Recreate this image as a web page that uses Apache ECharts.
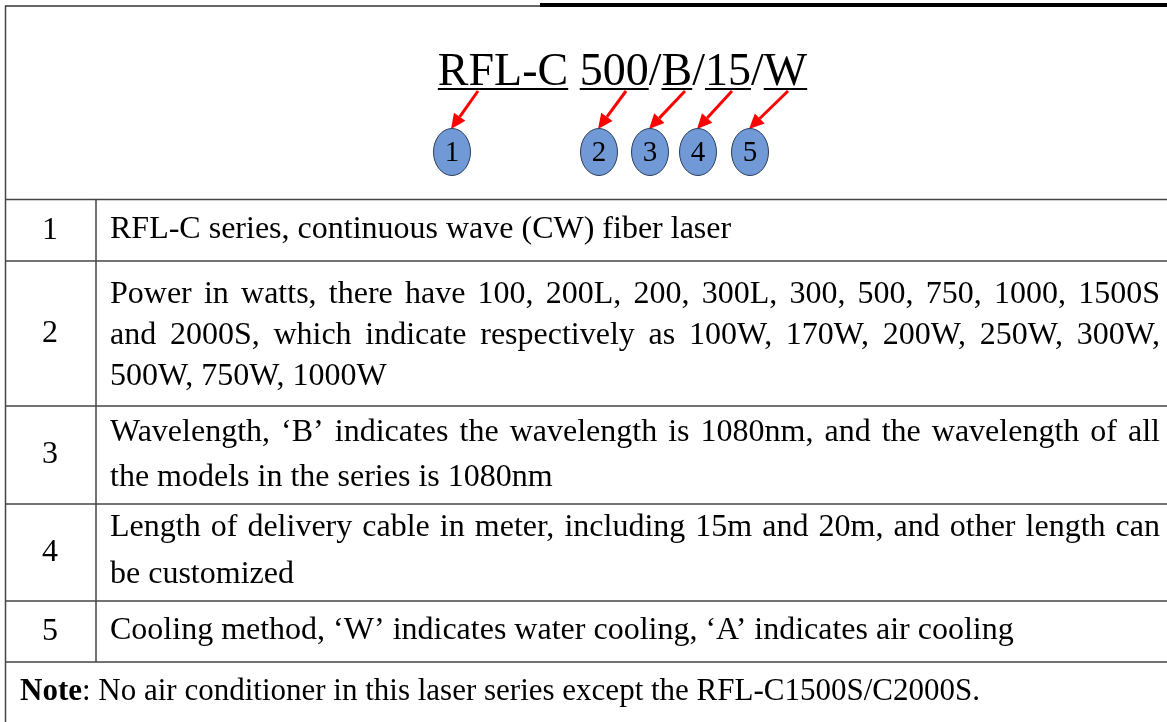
<!DOCTYPE html>
<html>
<head>
<meta charset="utf-8">
<script src="https://cdn.jsdelivr.net/npm/echarts@6/dist/echarts.min.js"></script>
<style>
  html, body { margin: 0; padding: 0; background: #fff; }
  #main { width: 1167px; height: 722px; }
</style>
</head>
<body>
<div id="main"></div>
<script>
// model code pieces (underlined ones get a numbered badge)
const titleParts = ['RFL-C', ' ', '500', '/', 'B', '/', '15', '/', 'W']
const badgeLabels = ['1', '2', '3', '4', '5']

// table rows: number + text lines
const rowNums = ['1', '2', '3', '4', '5']
const rowText = [
  ['RFL-C series, continuous wave (CW) fiber laser'],
  ['Power in watts, there have 100, 200L, 200, 300L, 300, 500, 750, 1000, 1500S',
   'and 2000S, which indicate respectively as 100W, 170W, 200W, 250W, 300W,',
   '500W, 750W, 1000W'],
  ['Wavelength, \u2018B\u2019 indicates the wavelength is 1080nm, and the wavelength of all',
   'the models in the series is 1080nm'],
  ['Length of delivery cable in meter, including 15m and 20m, and other length can',
   'be customized'],
  ['Cooling method, \u2018W\u2019 indicates water cooling, \u2018A\u2019 indicates air cooling']
]
const noteLabel = 'Note'
const noteText = ': No air conditioner in this laser series except the RFL-C1500S/C2000S.'

// layout
const FONT = '32px "Liberation Serif", "Times New Roman", serif'
const NOTE_FONT = '31px "Liberation Serif", "Times New Roman", serif'
const BOLD = 'bold 31px "Liberation Serif", "Times New Roman", serif'
const TITLE_FONT = '46px "Liberation Serif", "Times New Roman", serif'
const BADGE_FONT = '29px "Liberation Serif", "Times New Roman", serif'
const hLines = [199.5, 261, 406, 504, 601, 662]
const lineY = [[230], [295, 336, 377], [433, 478], [528, 575], [631]]
const textLeft = 110, textRight = 1160
const badgeX = [452, 599, 650, 698, 750]
const badgeY = 152
const arrowStartX = [478, 626, 685, 732, 788]

const measure = document.createElement('canvas').getContext('2d')
function textW (str, font) {
  measure.font = font
  return measure.measureText(str).width
}

let els = []
const stroke = '#444'

// frame
els.push({ type: 'line', shape: { x1: 5.5, y1: 6, x2: 5.5, y2: 722 }, style: { stroke: stroke, lineWidth: 1.5 } })
els.push({ type: 'line', shape: { x1: 5, y1: 6, x2: 540, y2: 6 }, style: { stroke: '#333', lineWidth: 1.5 } })
els.push({ type: 'line', shape: { x1: 540, y1: 5, x2: 1167, y2: 5 }, style: { stroke: '#000', lineWidth: 4 } })
hLines.forEach(y => {
  els.push({ type: 'line', shape: { x1: 5, y1: y, x2: 1167, y2: y }, style: { stroke: stroke, lineWidth: 1.5 } })
})
els.push({ type: 'line', shape: { x1: 96, y1: hLines[0], x2: 96, y2: hLines[hLines.length - 1] }, style: { stroke: stroke, lineWidth: 1.5 } })

// title with underlines
let total = 0
titleParts.forEach(p => { total += textW(p, TITLE_FONT) })
let tx = 622.5 - total / 2
titleParts.forEach(p => {
  let w = textW(p, TITLE_FONT)
  els.push({ type: 'text', style: { text: p, x: tx, y: 96, font: TITLE_FONT, fill: '#000', textAlign: 'left', textVerticalAlign: 'bottom' } })
  if (p !== ' ' && p !== '/') {
    els.push({ type: 'line', shape: { x1: tx, y1: 89, x2: tx + w, y2: 89 }, style: { stroke: '#000', lineWidth: 2 } })
  }
  tx += w
})

// arrows + badges
badgeLabels.forEach((b, i) => {
  let sx = arrowStartX[i], sy = 91
  let ex = badgeX[i] - 1, ey = 129
  let dx = ex - sx, dy = ey - sy
  let len = Math.sqrt(dx * dx + dy * dy)
  let ux = dx / len, uy = dy / len
  let bx = ex - ux * 15, by = ey - uy * 15
  els.push({ type: 'line', shape: { x1: sx, y1: sy, x2: bx, y2: by }, style: { stroke: '#ff0000', lineWidth: 3 } })
  els.push({ type: 'polygon', shape: { points: [[ex, ey], [bx - uy * 7, by + ux * 7], [bx + uy * 7, by - ux * 7]] }, style: { fill: '#ff0000' } })
  els.push({ type: 'ellipse', shape: { cx: badgeX[i], cy: badgeY, rx: 18.5, ry: 23.5 }, style: { fill: '#7099d6', stroke: '#2f3f5a', lineWidth: 1 } })
  els.push({ type: 'text', style: { text: b, x: badgeX[i], y: badgeY + 1, font: BADGE_FONT, fill: '#000', textAlign: 'center', textVerticalAlign: 'middle' } })
})

// rows
rowNums.forEach((n, r) => {
  let cy = (hLines[r] + hLines[r + 1]) / 2
  els.push({ type: 'text', style: { text: n, x: 50, y: cy, font: FONT, fill: '#000', textAlign: 'center', textVerticalAlign: 'middle' } })
  let lines = rowText[r]
  lines.forEach((ln, k) => {
    let y = lineY[r][k]
    let justify = k < lines.length - 1
    if (!justify) {
      els.push({ type: 'text', style: { text: ln, x: textLeft, y: y, font: FONT, fill: '#000', textAlign: 'left', textVerticalAlign: 'middle' } })
      return
    }
    let words = ln.split(' ')
    let sum = 0
    words.forEach(w => { sum += textW(w, FONT) })
    let gap = (textRight - textLeft - sum) / (words.length - 1)
    let x = textLeft
    words.forEach(w => {
      els.push({ type: 'text', style: { text: w, x: x, y: y, font: FONT, fill: '#000', textAlign: 'left', textVerticalAlign: 'middle' } })
      x += textW(w, FONT) + gap
    })
  })
})

// note
let noteY = 692
els.push({ type: 'text', style: { text: noteLabel, x: 20, y: noteY, font: BOLD, fill: '#000', textAlign: 'left', textVerticalAlign: 'middle' } })
els.push({ type: 'text', style: { text: noteText, x: 20 + textW(noteLabel, BOLD), y: noteY, font: NOTE_FONT, fill: '#000', textAlign: 'left', textVerticalAlign: 'middle' } })

els.forEach(e => { e.silent = true })

let myChart = echarts.init(document.getElementById('main'))
myChart.setOption({
  animation: false,
  backgroundColor: '#fff',
  graphic: { elements: els }
})
</script>
</body>
</html>
